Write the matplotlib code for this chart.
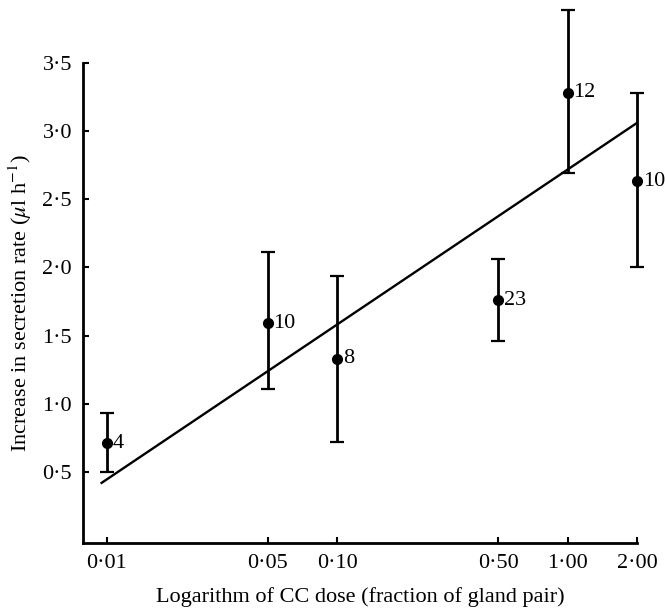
import matplotlib
matplotlib.use("Agg")
import matplotlib.pyplot as plt
from matplotlib.ticker import FixedLocator, NullLocator

plt.rcParams['font.family'] = ['Liberation Serif', 'DejaVu Serif']
plt.rcParams['mathtext.fontset'] = 'stix'

# dose (fraction of gland pair) and increase in secretion rate
dose = [0.01, 0.05, 0.10, 0.50, 1.00, 2.00]
rate = [0.71, 1.59, 1.33, 1.76, 3.28, 2.63]
err_low = [0.50, 1.11, 0.72, 1.46, 2.69, 2.00]
err_high = [0.93, 2.11, 1.94, 2.06, 3.89, 3.28]
n_obs = ['4', '10', '8', '23', '12', '10']

# regression line end points
fit_x = [0.0095, 2.00]
fit_y = [0.42, 3.06]

x_ticks = [0.01, 0.05, 0.10, 0.50, 1.00, 2.00]
x_tick_labels = ['0·01', '0·05', '0·10', '0·50', '1·00', '2·00']
y_ticks = [0.5, 1.0, 1.5, 2.0, 2.5, 3.0, 3.5]
y_tick_labels = ['0·5', '1·0', '1·5', '2·0', '2·5', '3·0', '3·5']

fig = plt.figure(figsize=(6.65, 6.1), dpi=100)
ax = fig.add_axes([0.125, 0.110, 0.833, 0.787])

yerr = [[r - lo for r, lo in zip(rate, err_low)],
        [hi - r for r, hi in zip(rate, err_high)]]
eb = ax.errorbar(dose, rate, yerr=yerr, fmt='o', color='black', ms=7,
                 elinewidth=2, capsize=5, capthick=1.6)
for art in eb.lines[1] + eb.lines[2]:
    art.set_clip_on(False)
eb.lines[0].set_clip_on(False)

ax.plot(fit_x, fit_y, color='black', lw=1.7)

for x, y, n in zip(dose, rate, n_obs):
    ax.annotate(n, (x, y), xytext=(4, 0), textcoords='offset points',
                ha='left', va='center', fontsize=16, annotation_clip=False)

ax.set_xscale('log')
ax.set_xlim(0.0079, 2.0)
ax.set_ylim(-0.02, 3.5)

ax.xaxis.set_major_locator(FixedLocator(x_ticks))
ax.xaxis.set_minor_locator(NullLocator())
ax.set_xticklabels(x_tick_labels)
ax.yaxis.set_major_locator(FixedLocator(y_ticks))
ax.set_yticklabels(y_tick_labels)

ax.tick_params(direction='in', length=4, width=1.5, labelsize=16, pad=8)
ax.spines['top'].set_visible(False)
ax.spines['right'].set_visible(False)
ax.spines['left'].set_linewidth(2)
ax.spines['bottom'].set_linewidth(2)

ax.set_xlabel('Logarithm of CC dose (fraction of gland pair)', fontsize=16, labelpad=10)
ax.set_ylabel(r'Increase in secretion rate ($\mu$l h$^{-1}$)', fontsize=16, labelpad=6)

fig.savefig('out.png', dpi=100)
